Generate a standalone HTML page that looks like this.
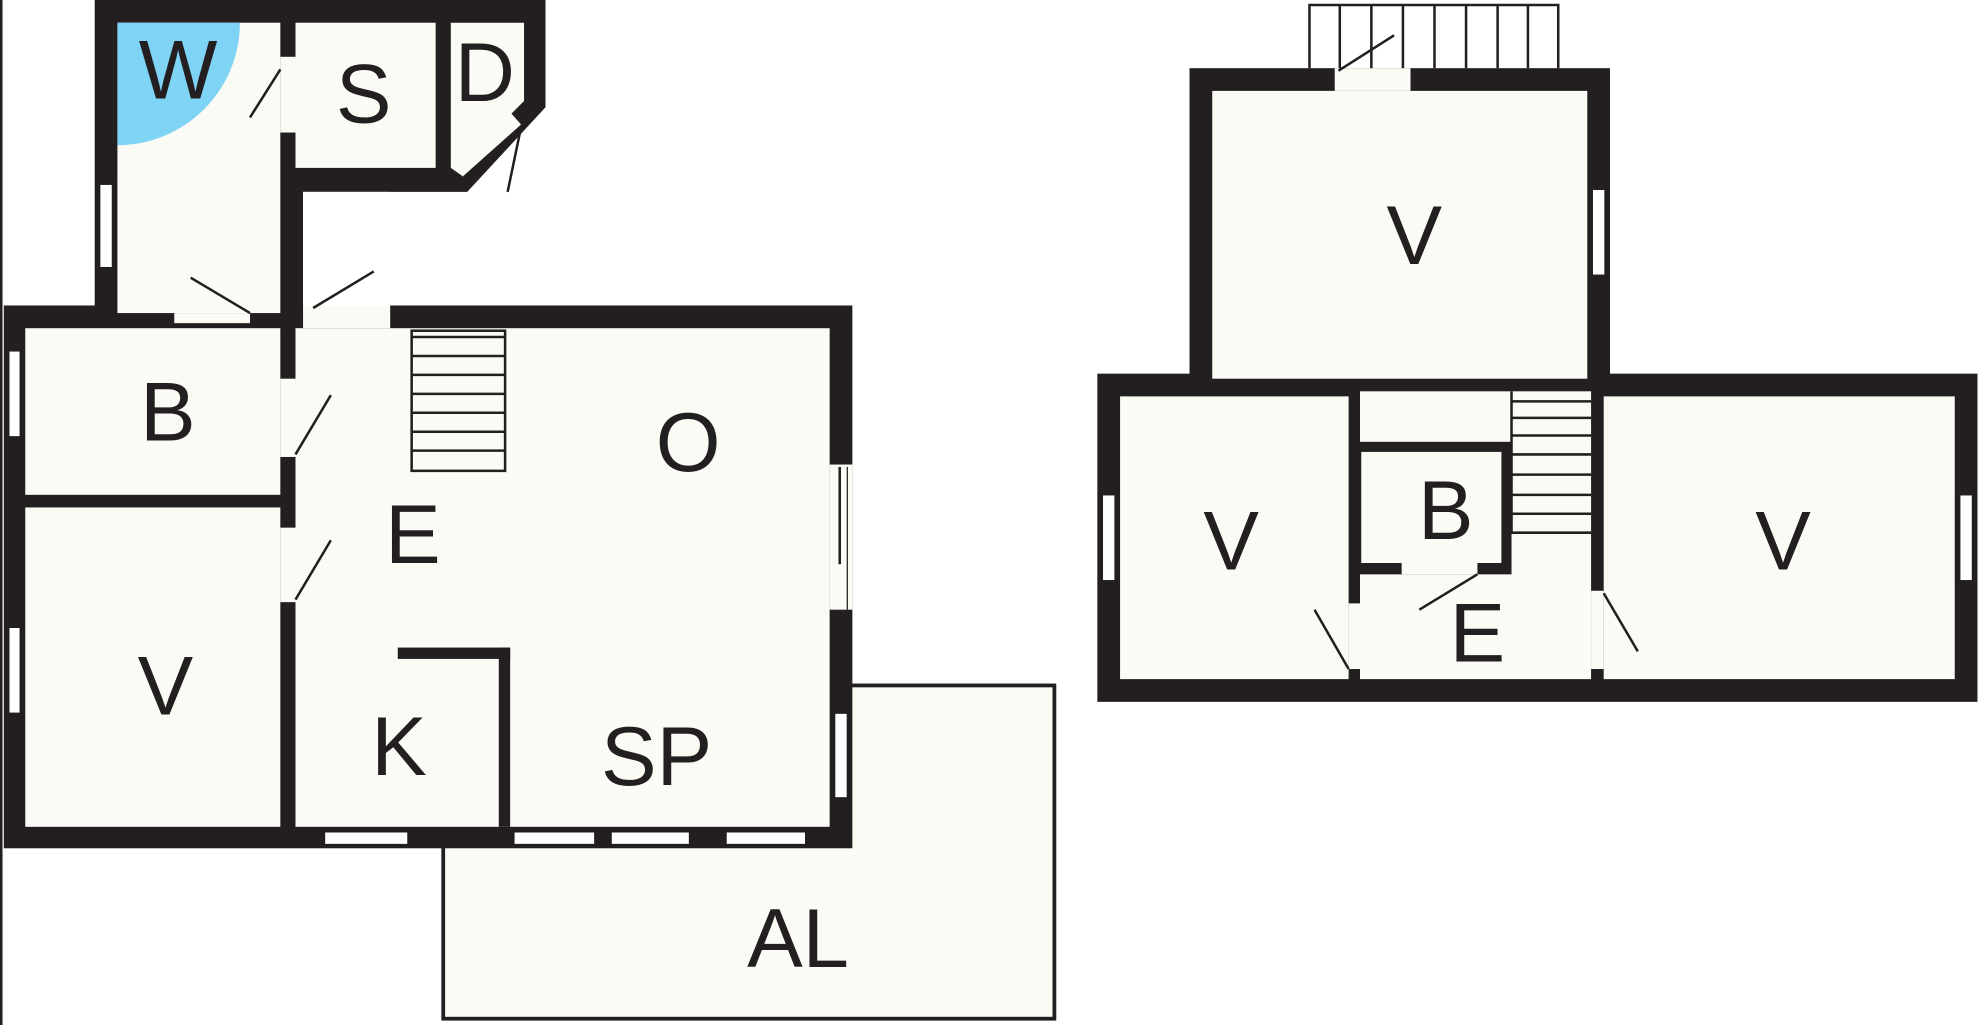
<!DOCTYPE html>
<html><head><meta charset="utf-8"><style>
html,body{margin:0;padding:0;background:#fff;}
svg{display:block}
text{font-family:"Liberation Sans",sans-serif;font-size:66px;fill:#231f20;text-anchor:middle;}
</style></head><body>
<svg width="1980" height="1025" viewBox="0 0 1568 812" preserveAspectRatio="none" xmlns="http://www.w3.org/2000/svg">
<rect width="1568" height="812" fill="#fff"/>
<line x1="1" y1="0" x2="1" y2="812" stroke="#231f20" stroke-width="2"/>
<!-- AL (behind) -->
<rect x="351" y="543" width="484" height="264" fill="#fbfbf5" stroke="#231f20" stroke-width="3"/>
<g fill="#231f20">
<polygon points="75,0 432,0 432,85 370,152 240,152 240,260 75,260"/>
<rect x="3" y="242" width="672" height="430"/>
</g>
<g fill="#fbfbf5">
<rect x="93" y="18" width="129" height="230"/>
<rect x="234" y="18" width="111" height="115"/>
<polygon points="357,18 415,18 415,80 405,90 413,99 367,140 357,133"/>
<rect x="240" y="152" width="69" height="90" fill="#fff"/>
<rect x="240" y="242" width="69" height="18"/>
<rect x="20" y="260" width="202" height="132"/>
<rect x="20" y="402" width="202" height="253"/>
<rect x="234" y="260" width="423" height="395"/>
<rect x="222" y="300" width="12" height="62"/>
<rect x="222" y="418" width="12" height="59"/>
<rect x="222" y="45" width="12" height="60"/>
<rect x="138" y="248" width="60" height="8"/>
<rect x="657" y="368" width="18" height="115"/>
</g>
<path d="M93,18 L190,18 A97,97 0 0 1 93,115 Z" fill="#7fd3f5"/>
<g fill="#231f20">
<rect x="315" y="513" width="89" height="9"/>
<rect x="395" y="513" width="9" height="142"/>
</g>
<g fill="#fff" stroke="#231f20" stroke-width="1">
<rect x="7" y="278" width="9" height="68"/>
<rect x="7" y="497" width="9" height="68"/>
<rect x="79" y="146" width="10" height="66"/>
<rect x="257" y="659" width="66" height="10"/>
<rect x="407" y="659" width="64" height="10"/>
<rect x="484" y="659" width="62" height="10"/>
<rect x="575" y="659" width="63" height="10"/>
<rect x="661" y="565" width="10" height="67"/>
</g>
<line x1="665" y1="370" x2="665" y2="447" stroke="#231f20" stroke-width="2"/>
<line x1="671" y1="370" x2="671" y2="483" stroke="#231f20" stroke-width="1"/>
<g stroke="#231f20" stroke-width="2" fill="none">
<rect x="326" y="262" width="74" height="111"/>
<line x1="326" y1="267" x2="400" y2="267"/><line x1="326" y1="282" x2="400" y2="282"/>
<line x1="326" y1="297" x2="400" y2="297"/><line x1="326" y1="312" x2="400" y2="312"/>
<line x1="326" y1="327" x2="400" y2="327"/><line x1="326" y1="342" x2="400" y2="342"/>
<line x1="326" y1="357" x2="400" y2="357"/>
</g>
<g stroke="#231f20" stroke-width="2">
<line x1="198" y1="93" x2="222" y2="55"/>
<line x1="413" y1="99" x2="402" y2="152"/>
<line x1="367" y1="140" x2="413" y2="99" stroke-width="1"/>
<line x1="151" y1="220" x2="198" y2="248"/>
<line x1="248" y1="244" x2="296" y2="215"/>
<line x1="234" y1="360" x2="262" y2="313"/>
<line x1="234" y1="475" x2="262" y2="428"/>
</g>
<!-- right plan -->
<g fill="#231f20">
<rect x="942" y="54" width="333" height="260"/>
<rect x="869" y="296" width="697" height="260"/>
</g>
<g fill="#fbfbf5">
<rect x="960" y="72" width="297" height="228"/>
<rect x="1057" y="54" width="60" height="18"/>
<rect x="887" y="314" width="181" height="224"/>
<rect x="1270" y="314" width="278" height="224"/>
<rect x="1077" y="310" width="183" height="228"/>
<rect x="1068" y="478" width="9" height="52"/>
<rect x="1260" y="468" width="10" height="62"/>
</g>
<rect x="1070" y="350" width="127" height="105" fill="#231f20"/>
<rect x="1078" y="358" width="111" height="88" fill="#fbfbf5"/>
<rect x="1110" y="446" width="60" height="9" fill="#fbfbf5"/>
<g fill="#fff" stroke="#231f20" stroke-width="1">
<rect x="873" y="392" width="10" height="68"/>
<rect x="1552" y="392" width="10" height="68"/>
<rect x="1261" y="150" width="10" height="68"/>
</g>
<g stroke="#231f20" stroke-width="2" fill="none">
<line x1="1197" y1="318" x2="1260" y2="318"/><line x1="1197" y1="331" x2="1260" y2="331"/>
<line x1="1197" y1="345" x2="1260" y2="345"/><line x1="1197" y1="360" x2="1260" y2="360"/>
<line x1="1197" y1="376" x2="1260" y2="376"/><line x1="1197" y1="392" x2="1260" y2="392"/>
<line x1="1197" y1="407" x2="1260" y2="407"/><line x1="1197" y1="422" x2="1260" y2="422"/>
<line x1="1197" y1="310" x2="1197" y2="422"/>
<polyline points="1037,54 1037,4 1234,4 1234,54"/>
<line x1="1061" y1="4" x2="1061" y2="54"/><line x1="1086" y1="4" x2="1086" y2="54"/>
<line x1="1111" y1="4" x2="1111" y2="54"/><line x1="1136" y1="4" x2="1136" y2="54"/>
<line x1="1161" y1="4" x2="1161" y2="54"/><line x1="1186" y1="4" x2="1186" y2="54"/>
<line x1="1210" y1="4" x2="1210" y2="54"/>
<line x1="1060" y1="56" x2="1104" y2="28"/>
<line x1="1124" y1="483" x2="1170" y2="455"/>
<line x1="1041" y1="483" x2="1068" y2="530"/>
<line x1="1270" y1="470" x2="1297" y2="516"/>
</g>
<text x="141" y="78">W</text>
<text x="288" y="97">S</text>
<text x="384" y="80">D</text>
<text x="133" y="349">B</text>
<text x="545" y="373">O</text>
<text x="327" y="446">E</text>
<text x="131" y="566">V</text>
<text x="316" y="614">K</text>
<text x="520" y="622">SP</text>
<text x="632" y="766">AL</text>
<text x="1120" y="209">V</text>
<text x="975" y="451">V</text>
<text x="1145" y="427">B</text>
<text x="1170" y="524">E</text>
<text x="1412" y="451">V</text>
</svg>
</body></html>
